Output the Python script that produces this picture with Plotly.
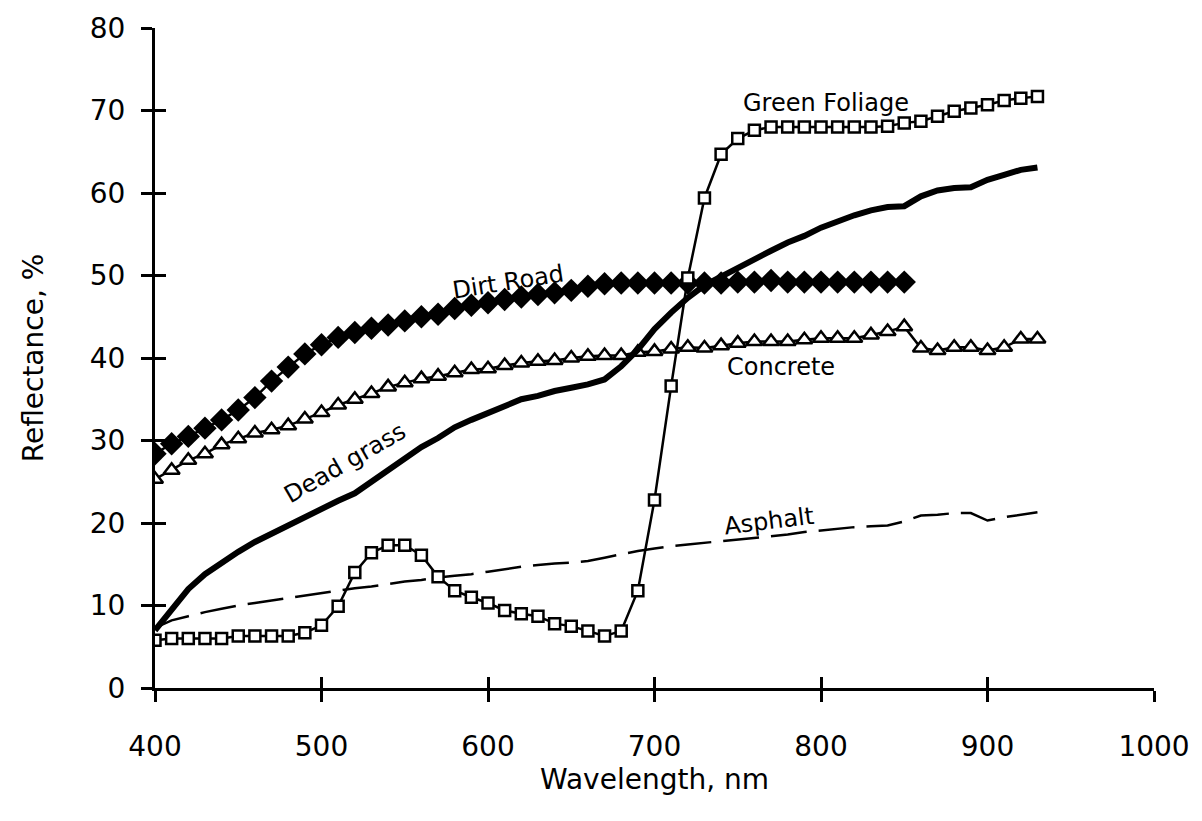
import plotly.graph_objects as go

wl = list(range(400, 940, 10))  # 400..930

green_foliage = [5.8, 6.0, 6.0, 6.0, 6.0, 6.3, 6.3, 6.3, 6.3, 6.7,
                 7.6, 9.9, 14.0, 16.4, 17.3, 17.3, 16.1, 13.5, 11.8, 11.0,
                 10.3, 9.4, 9.0, 8.7, 7.8, 7.5, 6.9, 6.3, 6.9, 11.8,
                 22.8, 36.6, 49.7, 59.4, 64.7, 66.6, 67.6, 68.0, 68.0, 68.0,
                 68.0, 68.0, 68.0, 68.0, 68.1, 68.5, 68.7, 69.3, 69.9, 70.3,
                 70.7, 71.2, 71.5, 71.7]

dead_grass = [7.0, 9.4, 12.0, 13.8, 15.2, 16.5, 17.7, 18.7, 19.8, 20.9,
              21.8, 22.7, 23.6, 25.0, 26.4, 27.8, 29.2, 30.3, 31.6, 32.5,
              33.3, 34.2, 35.0, 35.4, 36.0, 36.4, 36.8, 37.4, 39.0, 41.0,
              43.5, 45.5, 47.3, 48.8, 49.9, 51.0, 51.9, 53.0, 54.0, 54.8,
              55.8, 56.6, 57.3, 57.9, 58.3, 58.4, 59.6, 60.3, 60.6, 60.7,
              61.6, 62.2, 62.8, 63.1]

asphalt = [7.3, 8.2, 8.7, 9.2, 9.6, 10.0, 10.3, 10.6, 10.9, 11.2,
           11.5, 11.8, 12.1, 12.3, 12.6, 12.9, 13.1, 13.4, 13.6, 13.8,
           14.1, 14.4, 14.7, 14.9, 15.1, 15.2, 15.4, 15.8, 16.2, 16.6,
           16.9, 17.2, 17.4, 17.6, 17.8, 18.0, 18.2, 18.4, 18.6, 18.9,
           19.1, 19.3, 19.5, 19.6, 19.7, 20.2, 20.9, 21.0, 21.2, 21.2,
           20.3, 20.7, 21.0, 21.3]

concrete = [25.3, 26.4, 27.6, 28.4, 29.5, 30.2, 30.9, 31.3, 31.8, 32.6,
            33.4, 34.3, 35.0, 35.7, 36.5, 37.0, 37.5, 37.8, 38.2, 38.6,
            38.7, 39.1, 39.4, 39.6, 39.7, 40.0, 40.2, 40.3, 40.3, 40.7,
            40.8, 41.1, 41.3, 41.2, 41.5, 41.8, 42.0, 42.0, 42.0, 42.2,
            42.4, 42.4, 42.4, 42.8, 43.2, 43.8, 41.2, 40.9, 41.3, 41.3,
            40.9, 41.3, 42.3, 42.3]

wl_dirt = list(range(400, 860, 10))  # 400..850
dirt_road = [28.4, 29.6, 30.5, 31.5, 32.5, 33.7, 35.2, 37.2, 38.9, 40.5,
             41.6, 42.5, 43.1, 43.6, 44.0, 44.5, 45.0, 45.3, 46.0, 46.4,
             46.7, 47.1, 47.4, 47.7, 47.9, 48.2, 48.7, 49.0, 49.1, 49.1,
             49.1, 49.1, 49.1, 49.1, 49.1, 49.2, 49.2, 49.4, 49.2, 49.2,
             49.2, 49.2, 49.2, 49.2, 49.2, 49.2]

x_ticks = [400, 500, 600, 700, 800, 900, 1000]
y_ticks = [0, 10, 20, 30, 40, 50, 60, 70, 80]

labels = [
    # text, x (nm), y (%), angle
    ("Green Foliage", 803, 70.9, 0),
    ("Dirt Road", 612, 49.2, -9),
    ("Concrete", 776, 38.9, 0),
    ("Dead grass", 514, 27.3, -30),
    ("Asphalt", 769, 20.2, -7),
]

FONT = "DejaVu Sans, Liberation Sans, Arial, sans-serif"

fig = go.Figure()

fig.add_trace(go.Scatter(x=wl, y=asphalt, mode="lines",
                         line=dict(color="black", width=2.5, dash="36px,12px"),
                         showlegend=False))
fig.add_trace(go.Scatter(x=wl, y=concrete, mode="lines+markers",
                         line=dict(color="black", width=2.5),
                         marker=dict(symbol="triangle-up", size=14, color="white",
                                     line=dict(color="black", width=2.5)),
                         showlegend=False))
fig.add_trace(go.Scatter(x=wl_dirt, y=dirt_road, mode="lines+markers",
                         line=dict(color="black", width=2.5),
                         marker=dict(symbol="diamond", size=18, color="black",
                                     line=dict(color="black", width=0)),
                         showlegend=False))
fig.add_trace(go.Scatter(x=wl, y=dead_grass, mode="lines",
                         line=dict(color="black", width=6),
                         showlegend=False))
fig.add_trace(go.Scatter(x=wl, y=green_foliage, mode="lines+markers",
                         line=dict(color="black", width=2.5),
                         marker=dict(symbol="square", size=11, color="white",
                                     line=dict(color="black", width=2.5)),
                         showlegend=False))

for text, x, y, ang in labels:
    fig.add_annotation(x=x, y=y, text=text, showarrow=False, textangle=ang,
                       font=dict(family=FONT, size=24, color="black"))

axis_common = dict(showgrid=False, zeroline=False, showline=True,
                   linecolor="black", linewidth=3, ticks="outside",
                   ticklen=11, tickwidth=2.5, tickcolor="black")

fig.update_layout(
    width=1202, height=821,
    paper_bgcolor="white", plot_bgcolor="white",
    margin=dict(l=155, r=47, t=26, b=133),
    xaxis=dict(range=[400, 1000], tickvals=x_ticks,
               ticktext=[str(v) for v in x_ticks],
               tickfont=dict(family=FONT, size=28, color="black"),
               ticklabelstandoff=20,
               title=dict(text="Wavelength, nm", standoff=2,
                          font=dict(family=FONT, size=28, color="black")),
               **axis_common),
    yaxis=dict(range=[0, 80], tickvals=y_ticks,
               ticktext=[str(v) for v in y_ticks],
               tickfont=dict(family=FONT, size=28, color="black"),
               ticklabelstandoff=10,
               title=dict(text="Reflectance, %", standoff=38,
                          font=dict(family=FONT, size=28, color="black")),
               **axis_common),
    xaxis2=dict(overlaying="x", matches="x", range=[400, 1000], tickvals=x_ticks,
                showticklabels=False, showgrid=False, zeroline=False,
                showline=False, ticks="inside", ticklen=11, tickwidth=2.5,
                tickcolor="black", side="bottom", anchor="y"),
    yaxis2=dict(overlaying="y", matches="y", range=[0, 80], tickvals=y_ticks,
                showticklabels=False, showgrid=False, zeroline=False,
                showline=False, ticks="inside", ticklen=11, tickwidth=2.5,
                tickcolor="black", side="left", anchor="x"),
)

# invisible trace to activate the overlay axes (crossing tick marks)
fig.add_trace(go.Scatter(x=[400], y=[0], xaxis="x2", yaxis="y2", mode="markers",
                         marker=dict(opacity=0), showlegend=False, hoverinfo="skip"))

fig.write_html("out.html")
